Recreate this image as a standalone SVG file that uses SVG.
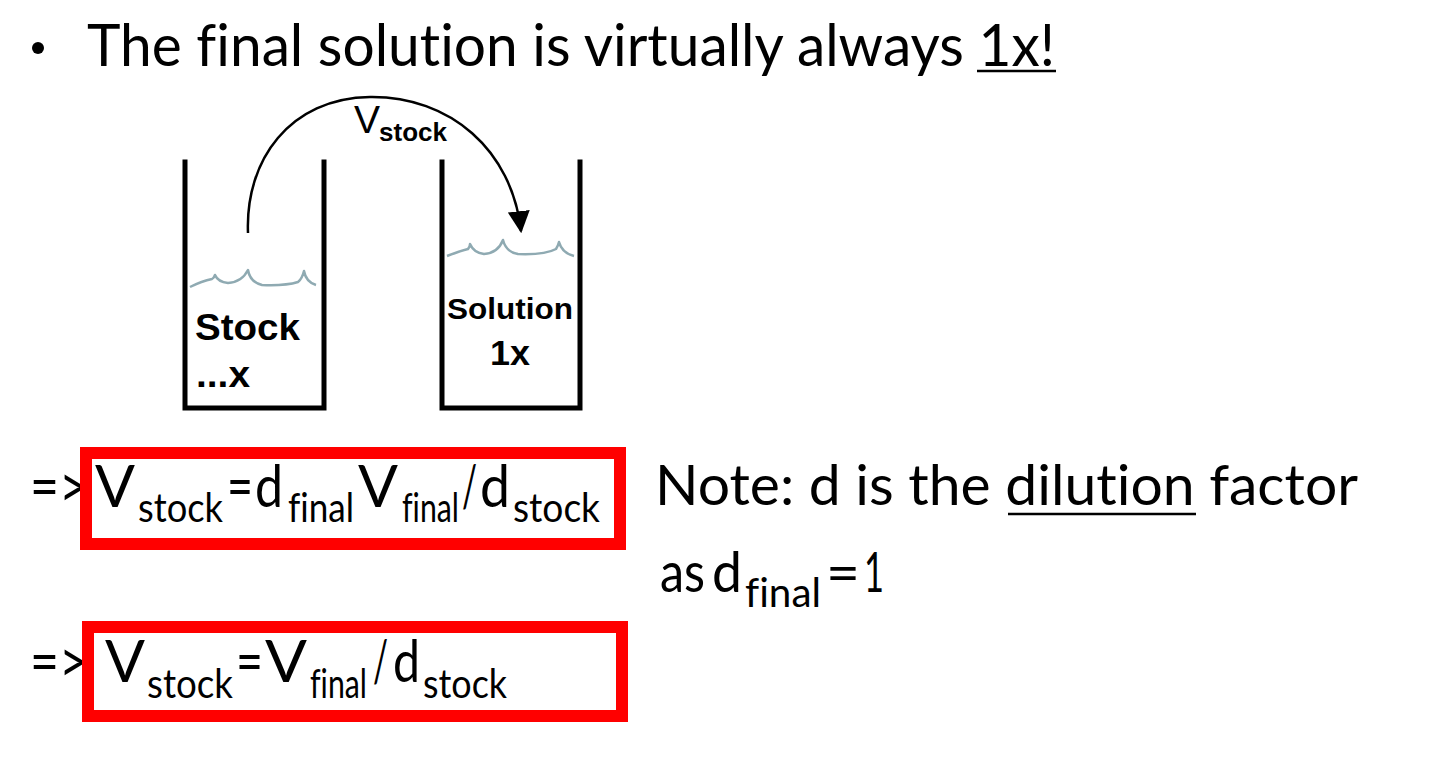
<svg xmlns="http://www.w3.org/2000/svg" width="1440" height="777" viewBox="0 0 1440 777">
<style>
.g{font-family:Lato,"Open Sans","Liberation Sans",sans-serif;fill:#000;font-variant-ligatures:none}
.m{font-size:58px}
.s{font-size:41px}
.a{font-family:"Liberation Sans",Arial,sans-serif;fill:#000}
.wall{fill:none;stroke:#000;stroke-width:5;stroke-linecap:square}
.wave{fill:none;stroke:#8faab2;stroke-width:2.5;stroke-linejoin:round}
.box{fill:none;stroke:#ff0000;stroke-width:12}
</style>
<defs>
<marker id="ah" viewBox="0 0 20 20" refX="18" refY="10" markerWidth="22" markerHeight="22" markerUnits="userSpaceOnUse" orient="auto">
<path d="M0,0 L20,10 L0,20 z" fill="#000"/>
</marker>
</defs>
<rect width="1440" height="777" fill="#fff"/>
<g id="title">
<circle cx="38" cy="48" r="6" fill="#000"/>
<text class="g" x="87" y="66" font-size="58" textLength="968" lengthAdjust="spacingAndGlyphs">The final solution is virtually always 1x!</text>
<line x1="977" y1="71" x2="1056" y2="71" stroke="#000" stroke-width="2.5"/>
</g>
<g id="stock-beaker">
<path class="wall" d="M185,162 V408 H324 V162"/>
<path class="wave" d="M190,287 Q202,281 212,279 Q214,278 215,275 Q218,282 228,283 Q242,282 248,270 Q250,282 262,285 Q285,286 298,282 Q302,279 304,271 Q306,282 316,285"/>
<text class="a" x="195" y="340" font-size="37" font-weight="bold" textLength="105" lengthAdjust="spacingAndGlyphs">Stock</text>
<text class="a" x="196" y="387" font-size="37" font-weight="bold" textLength="54" lengthAdjust="spacingAndGlyphs">...x</text>
</g>
<g id="solution-beaker">
<path class="wall" d="M442,162 V408 H580 V162"/>
<path class="wave" d="M447,256 Q460,251 468,249 Q470,247 470,244 Q474,253 484,254 Q498,253 503,240 Q506,252 518,254 Q545,255 556,249 Q558,246 559,242 Q562,253 574,256"/>
<text class="a" x="447" y="319" font-size="30" font-weight="bold" textLength="126" lengthAdjust="spacingAndGlyphs">Solution</text>
<text class="a" x="490" y="365" font-size="35" font-weight="bold" textLength="40" lengthAdjust="spacingAndGlyphs">1x</text>
</g>
<g id="connectors">
<path d="M248,233 C245,160 290,98 370,97 C450,96 512,150 521,231" fill="none" stroke="#000" stroke-width="2.5" marker-end="url(#ah)"/>
</g>
<g id="vstock-label">
<text class="a" x="354" y="133" font-size="39">V</text>
<text class="a" x="379" y="141" font-size="26" font-weight="bold" textLength="68" lengthAdjust="spacingAndGlyphs">stock</text>
</g>
<g id="formula1">
<text class="g m" x="30" y="507" textLength="58" lengthAdjust="spacingAndGlyphs">=&gt;</text>
<text class="g m" x="95" y="507" textLength="40" lengthAdjust="spacingAndGlyphs">V</text>
<text class="g s" x="138" y="522" textLength="85" lengthAdjust="spacingAndGlyphs">stock</text>
<text class="g m" x="227" y="507" textLength="26" lengthAdjust="spacingAndGlyphs">=</text>
<text class="g m" x="255" y="507" textLength="28" lengthAdjust="spacingAndGlyphs">d</text>
<text class="g s" x="288" y="522" textLength="66" lengthAdjust="spacingAndGlyphs">final</text>
<text class="g m" x="358" y="507" textLength="40" lengthAdjust="spacingAndGlyphs">V</text>
<text class="g s" x="402" y="522" textLength="57" lengthAdjust="spacingAndGlyphs">final</text>
<text class="g m" x="462" y="507" textLength="15" lengthAdjust="spacingAndGlyphs">/</text>
<text class="g m" x="480" y="507" textLength="30" lengthAdjust="spacingAndGlyphs">d</text>
<text class="g s" x="513" y="522" textLength="87" lengthAdjust="spacingAndGlyphs">stock</text>
<rect class="box" x="86" y="453" width="534" height="91"/>
</g>
<g id="note">
<text class="g" x="655" y="505" font-size="56" textLength="703" lengthAdjust="spacingAndGlyphs">Note: d is the dilution factor</text>
<line x1="1008" y1="514" x2="1196" y2="514" stroke="#000" stroke-width="2.5"/>
<text class="g" x="660" y="592" font-size="56" textLength="45" lengthAdjust="spacingAndGlyphs">as</text>
<text class="g" x="712" y="592" font-size="56" textLength="30" lengthAdjust="spacingAndGlyphs">d</text>
<text class="g" x="745" y="607" font-size="40" textLength="76" lengthAdjust="spacingAndGlyphs">final</text>
<text class="g" x="826" y="592" font-size="56" textLength="34" lengthAdjust="spacingAndGlyphs">=</text>
<text class="g" x="864" y="592" font-size="56" textLength="20" lengthAdjust="spacingAndGlyphs">1</text>
</g>
<g id="formula2">
<text class="g m" x="30" y="682" textLength="58" lengthAdjust="spacingAndGlyphs">=&gt;</text>
<text class="g m" x="105" y="682" textLength="40" lengthAdjust="spacingAndGlyphs">V</text>
<text class="g s" x="147" y="698" textLength="86" lengthAdjust="spacingAndGlyphs">stock</text>
<text class="g m" x="236" y="682" textLength="27" lengthAdjust="spacingAndGlyphs">=</text>
<text class="g m" x="265" y="682" textLength="42" lengthAdjust="spacingAndGlyphs">V</text>
<text class="g s" x="310" y="698" textLength="57" lengthAdjust="spacingAndGlyphs">final</text>
<text class="g m" x="373" y="682" textLength="15" lengthAdjust="spacingAndGlyphs">/</text>
<text class="g m" x="393" y="682" textLength="27" lengthAdjust="spacingAndGlyphs">d</text>
<text class="g s" x="423" y="698" textLength="84" lengthAdjust="spacingAndGlyphs">stock</text>
<rect class="box" x="88" y="627" width="534" height="89"/>
</g>
</svg>
